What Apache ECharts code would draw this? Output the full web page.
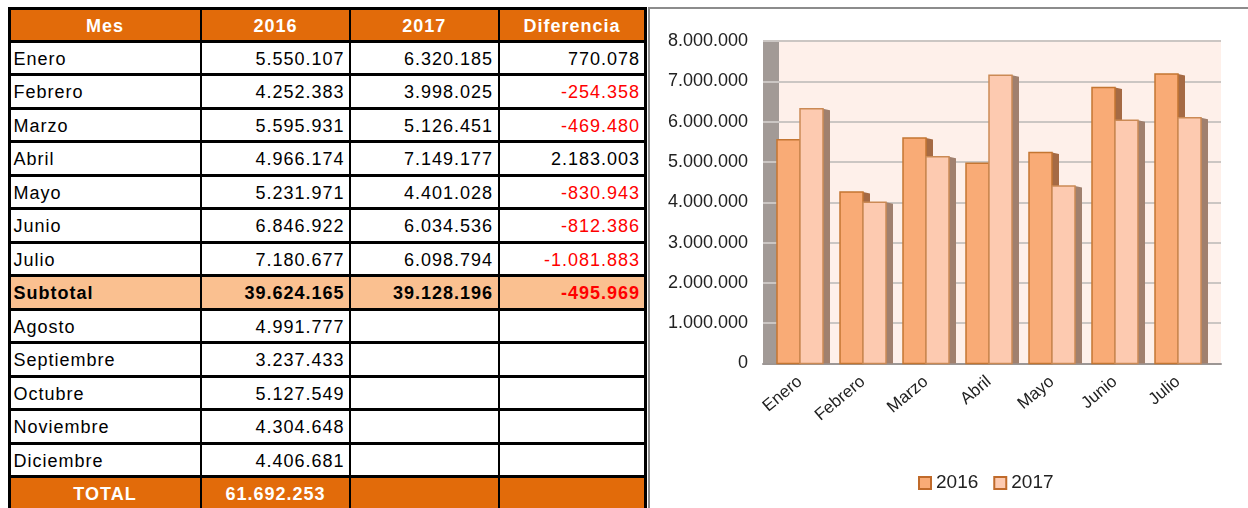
<!DOCTYPE html>
<html>
<head>
<meta charset="utf-8">
<script src="https://cdn.jsdelivr.net/npm/echarts@6/dist/echarts.min.js"></script>
<style>
html, body { margin: 0; padding: 0; width: 1248px; height: 508px; overflow: hidden; background: #fff; }
#chart { position: absolute; left: 0; top: 0; width: 1248px; height: 508px; }
#tabla { position: absolute; left: 0; top: 0; width: 660px; height: 508px; z-index: 2;
	font-family: "Liberation Sans", Arial, sans-serif; font-size: 18px; letter-spacing: 1px; color: #000; }
#tabla div { position: absolute; box-sizing: border-box; }
.celda { display: flex; align-items: center; padding-top: 3px; white-space: nowrap; }
</style>
</head>
<body>
<div id="chart"></div>
<div id="tabla"></div>
<script>
// datos de la tabla
var meses = ['Enero', 'Febrero', 'Marzo', 'Abril', 'Mayo', 'Junio', 'Julio',
	'Agosto', 'Septiembre', 'Octubre', 'Noviembre', 'Diciembre'];
var valores2016 = [5550107, 4252383, 5595931, 4966174, 5231971, 6846922, 7180677,
	4991777, 3237433, 5127549, 4304648, 4406681];
var valores2017 = [6320185, 3998025, 5126451, 7149177, 4401028, 6034536, 6098794];
var diferencias = [770078, -254358, -469480, 2183003, -830943, -812386, -1081883];
var subtotales = [39624165, 39128196, -495969];
var total2016 = 61692253;
var encabezados = ['Mes', '2016', '2017', 'Diferencia'];
var series = ['2016', '2017'];

var naranja = '#E26B0A';
var naranjaClaro = '#FAC090';

function fmt(n) {
	var s = Math.abs(n).toString().replace(/\B(?=(\d{3})+(?!\d))/g, '.');
	return (n < 0 ? '-' : '') + s;
}

/**
 * tabla a la izquierda
 */
function dibujarTabla() {
	var cont = document.getElementById('tabla');
	var cols = [9, 201, 350, 498.5, 645.5];
	var lineas = [8.5];
	for (var k = 0; k < 15; k++) {
		lineas.push(41 + 33.5 * k);
	}
	var filas = [];
	filas.push({ celdas: encabezados, tipo: 'cab' });
	for (var i = 0; i < 7; i++) {
		filas.push({ celdas: [meses[i], fmt(valores2016[i]), fmt(valores2017[i]), fmt(diferencias[i])], tipo: 'mes', neg: diferencias[i] < 0 });
	}
	filas.push({ celdas: ['Subtotal', fmt(subtotales[0]), fmt(subtotales[1]), fmt(subtotales[2])], tipo: 'sub', neg: subtotales[2] < 0 });
	for (var i = 7; i < 12; i++) {
		filas.push({ celdas: [meses[i], fmt(valores2016[i]), '', ''], tipo: 'mes' });
	}
	filas.push({ celdas: ['TOTAL', fmt(total2016), '', ''], tipo: 'tot' });

	function caja(x, y, w, h, css) {
		var d = document.createElement('div');
		d.style.left = x + 'px';
		d.style.top = y + 'px';
		d.style.width = w + 'px';
		d.style.height = h + 'px';
		for (var key in css) d.style[key] = css[key];
		cont.appendChild(d);
		return d;
	}

	// fondos
	filas.forEach(function(f, r) {
		var bg = '#fff';
		if (f.tipo == 'cab' || f.tipo == 'tot') bg = naranja;
		if (f.tipo == 'sub') bg = naranjaClaro;
		caja(cols[0], lineas[r], cols[4] - cols[0], lineas[r + 1] - lineas[r], { background: bg });
	});
	// textos
	filas.forEach(function(f, r) {
		for (var c = 0; c < 4; c++) {
			var txt = f.celdas[c];
			if (txt === '') continue;
			var css = {};
			if (f.tipo == 'cab' || f.tipo == 'tot') {
				css.justifyContent = 'center';
				css.color = '#fff';
				css.fontWeight = 'bold';
			} else if (c == 0) {
				css.justifyContent = 'flex-start';
				css.paddingLeft = '3px';
			} else {
				css.justifyContent = 'flex-end';
				css.paddingRight = '4px';
			}
			if (f.tipo == 'sub') css.fontWeight = 'bold';
			if (c == 3 && f.neg) css.color = '#FF0000';
			var d = caja(cols[c] + 1.5, lineas[r], cols[c + 1] - cols[c] - 3, lineas[r + 1] - lineas[r], css);
			d.className = 'celda';
			d.textContent = txt;
		}
	});
	// lineas horizontales
	lineas.forEach(function(y) {
		caja(cols[0] - 1.5, y - 1.5, cols[4] - cols[0] + 3, 3, { background: '#000' });
	});
	// lineas verticales
	cols.forEach(function(x, c) {
		var g = (c == 0 || c == 4) ? 3 : 2;
		caja(x - g / 2, lineas[0] - 1.5, g, 520, { background: '#000' });
	});
	// borde gris del grafico
	caja(648, 6.5, 600, 2, { background: '#8C8C8C' });
	caja(648, 6.5, 2, 510, { background: '#8C8C8C' });
}

/**
 * barra con cara lateral (efecto 3D)
 */
function barra3d(offset, frente, lado, borde) {
	return function(params, api) {
		var p = api.coord([api.value(0), api.value(1)]);
		var base = api.coord([api.value(0), 0]);
		var x = p[0] + offset, w = 23, d = 7;
		return {
			type : 'group',
			children : [ {
				type : 'polygon',
				shape : { points : [ [ x + w, p[1] ], [ x + w + d, p[1] + 1.5 ], [ x + w + d, base[1] ], [ x + w, base[1] ] ] },
				style : { fill : lado }
			}, {
				type : 'rect',
				shape : { x : x, y : p[1], width : w, height : base[1] - p[1] },
				style : { fill : frente, stroke : borde, lineWidth : 1.5 }
			} ]
		};
	};
}

var mesesGrafico = meses.slice(0, 7);
var datos2016 = mesesGrafico.map(function(m, i) { return [ i, valores2016[i] ]; });
var datos2017 = mesesGrafico.map(function(m, i) { return [ i, valores2017[i] ]; });

var option = {
	animation : false,
	textStyle : { fontFamily : '"Liberation Sans", Arial, sans-serif' },
	grid : [ {
		left : 763, top : 41, width : 458, height : 322.5,
		show : true, backgroundColor : '#FEF0EA', borderWidth : 0
	}, {
		left : 768.5, top : 41, width : 441, height : 322.5
	} ],
	graphic : [ {
		type : 'rect', z : 1,
		shape : { x : 763, y : 41, width : 16, height : 322.5 },
		style : { fill : '#A29A96' }
	} ],
	xAxis : [ {
		gridIndex : 0, type : 'value', min : 0, max : 1, z : 3,
		axisLine : { show : true, lineStyle : { color : '#9C9694', width : 2 } },
		axisTick : { show : false }, axisLabel : { show : false }, splitLine : { show : false }
	}, {
		gridIndex : 1, type : 'category', data : mesesGrafico,
		axisLine : { show : false }, axisTick : { show : false },
		axisLabel : { rotate : 40, fontSize : 17, color : '#222', margin : 16, interval : 0 }
	} ],
	yAxis : [ {
		gridIndex : 0, type : 'value', min : 0, max : 8000000, interval : 1000000, z : 3,
		axisLine : { show : false }, axisTick : { show : false },
		axisLabel : { fontSize : 18, color : '#222', margin : 15, formatter : fmt },
		splitLine : { lineStyle : { color : '#CBC6C3', width : 2 } }
	}, {
		gridIndex : 1, type : 'value', min : 0, max : 8000000, interval : 1000000,
		show : false
	} ],
	legend : {
		left : 913, top : 467,
		itemWidth : 12, itemHeight : 12, itemGap : 15,
		textStyle : { fontSize : 19, color : '#222', lineHeight : 22 },
		data : [ {
			name : series[0], icon : 'rect',
			itemStyle : { color : '#F9AB76', borderColor : '#C06A2A', borderWidth : 2 }
		}, {
			name : series[1], icon : 'rect',
			itemStyle : { color : '#FDCAB0', borderColor : '#C06A2A', borderWidth : 2 }
		} ]
	},
	series : [ {
		name : series[0], type : 'custom', xAxisIndex : 1, yAxisIndex : 1, z : 5,
		itemStyle : { color : '#F9AB76' },
		encode : { x : 0, y : 1 },
		renderItem : barra3d(-23, '#F9AB76', '#A56A44', '#C47632'),
		data : datos2016
	}, {
		name : series[1], type : 'custom', xAxisIndex : 1, yAxisIndex : 1, z : 6,
		itemStyle : { color : '#FDCAB0' },
		encode : { x : 0, y : 1 },
		renderItem : barra3d(0, '#FDCAB0', '#A0806E', '#CB8A55'),
		data : datos2017
	} ]
};

dibujarTabla();
var grafico = echarts.init(document.getElementById('chart'));
grafico.setOption(option);
</script>
</body>
</html>
